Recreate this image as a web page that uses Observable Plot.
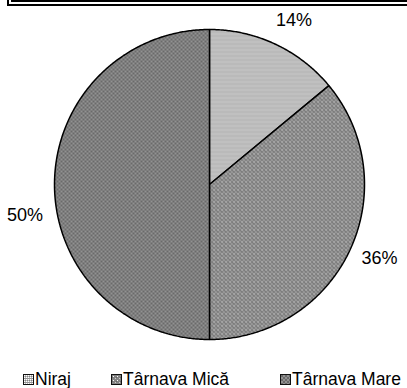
<!DOCTYPE html>
<html>
<head>
<meta charset="utf-8">
<script src="https://cdn.jsdelivr.net/npm/d3@7"></script>
<script src="https://cdn.jsdelivr.net/npm/@observablehq/plot@0.6"></script>
<style>
  body { margin: 0; background: #fff; font-family: "Liberation Sans", Arial, sans-serif; }
  #wrap { position: relative; width: 407px; height: 388px; overflow: hidden; background: #fff; }
  #chart { position: absolute; left: 0; top: 0; }
  .edge { position: absolute; border-color: #000; border-style: solid; border-width: 0; }
  .lg { position: absolute; top: 369px; font-size: 17.5px; line-height: 20px; color: #000; white-space: nowrap; }
  .sw { position: absolute; top: 374px; width: 9px; height: 9px; border: 1px solid #111; }
</style>
</head>
<body>
<div id="wrap">
  <svg width="0" height="0" style="position:absolute">
    <defs>
      <pattern id="pNiraj" width="4" height="4" patternUnits="userSpaceOnUse" shape-rendering="crispEdges">
        <rect width="4" height="4" fill="#bdbdbd"/>
        <rect x="0" y="0" width="1" height="1" fill="#ffffff"/>
        <rect x="2" y="0" width="1" height="1" fill="#ffffff"/>
        <rect x="1" y="1" width="1" height="1" fill="#858585"/>
        <rect x="3" y="1" width="1" height="1" fill="#858585"/>
        <rect x="0" y="2" width="1" height="1" fill="#ffffff"/>
        <rect x="2" y="2" width="1" height="1" fill="#ffffff"/>
        <rect x="0" y="3" width="4" height="1" fill="#959595"/>
      </pattern>
      <pattern id="pMica" width="4" height="4" patternUnits="userSpaceOnUse" shape-rendering="crispEdges">
        <rect width="4" height="4" fill="#848484"/>
        <rect x="1" y="1" width="1" height="1" fill="#ffffff"/>
        <rect x="3" y="3" width="1" height="1" fill="#cfcfcf"/>
        <rect x="0" y="2" width="1" height="1" fill="#666666"/>
      </pattern>
      <pattern id="pMare" width="4" height="4" patternUnits="userSpaceOnUse" shape-rendering="crispEdges">
        <rect width="4" height="4" fill="#929292"/>
        <rect x="0" y="0" width="2" height="2" fill="#6a6a6a"/>
        <rect x="2" y="2" width="2" height="2" fill="#6a6a6a"/>
      </pattern>
    </defs>
  </svg>
  <div id="chart"></div>
  <!-- bottom edge of the table above the chart -->
  <div class="edge" style="left:7px; top:-10px; width:420px; height:14px; border-left-width:2px; border-bottom-width:2px;"></div>
  <div class="edge" style="left:11px; top:-10px; width:420px; height:10px; border-left-width:2px; border-bottom-width:2px;"></div>
  <div class="edge" style="left:218px; top:-10px; width:0; height:10px; border-left-width:2px;"></div>
  <div class="edge" style="left:351px; top:-10px; width:0; height:10px; border-left-width:2px;"></div>
  <div id="legend"></div>
</div>
<script>
// River basins and their share of the total (%)
const regions = ["Niraj", "Târnava Mică", "Târnava Mare"];
const shares = [14, 36, 50];
const labels = ["14%", "36%", "50%"];

// Fill pattern per slice
const fills = ["url(#pNiraj)", "url(#pMica)", "url(#pMare)"];

// Slice angles, clockwise from 12 o'clock
const arcs = d3.pie().sort(null).value(d => d)(shares);

// Outline of each slice as a closed polygon in unit-circle coordinates
function slicePath(a) {
  const pts = [{x: 0, y: 0}];
  const n = Math.max(2, Math.ceil((a.endAngle - a.startAngle) / (Math.PI / 360)));
  for (let i = 0; i <= n; i++) {
    const t = a.startAngle + (a.endAngle - a.startAngle) * i / n;
    pts.push({x: Math.sin(t), y: Math.cos(t)});
  }
  pts.push({x: 0, y: 0});
  return pts;
}

// Label nudges (px) for the outside percentage labels
const nudges = [[6, 3], [3, -5], [0, 31]];
const labelData = arcs.map((a, i) => {
  const m = (a.startAngle + a.endAngle) / 2;
  return {x: Math.sin(m) * 1.19, y: Math.cos(m) * 1.19, text: labels[i], dx: nudges[i][0], dy: nudges[i][1]};
});

const chart = Plot.plot({
  width: 407,
  height: 360,
  marginLeft: 54,
  marginRight: 43,
  marginTop: 29,
  marginBottom: 21,
  x: {domain: [-1, 1], axis: null},
  y: {domain: [-1, 1], axis: null},
  style: {background: "transparent", overflow: "visible", fontFamily: "Liberation Sans, Arial, sans-serif"},
  marks: [
    ...arcs.map((a, i) => Plot.line(slicePath(a), {
      x: "x", y: "y",
      fill: fills[i],
      stroke: "#000",
      strokeWidth: 1.5,
      strokeLinejoin: "miter"
    })),
    ...labelData.map(d => Plot.text([d], {
      x: "x", y: "y", text: "text",
      dx: d.dx, dy: d.dy,
      fontSize: 18,
      fill: "#000"
    }))
  ]
});
document.getElementById("chart").appendChild(chart);

// Legend below the pie
const legend = document.getElementById("legend");
const swatchX = [23, 111, 280];
regions.forEach((r, i) => {
  const sw = document.createElement("div");
  sw.className = "sw";
  sw.style.left = swatchX[i] + "px";
  sw.innerHTML = '<svg width="9" height="9" style="display:block"><rect width="9" height="9" fill="' + fills[i] + '"/></svg>';
  legend.appendChild(sw);
  const t = document.createElement("div");
  t.className = "lg";
  t.style.left = (swatchX[i] + 12) + "px";
  t.textContent = r;
  legend.appendChild(t);
});
</script>
</body>
</html>
